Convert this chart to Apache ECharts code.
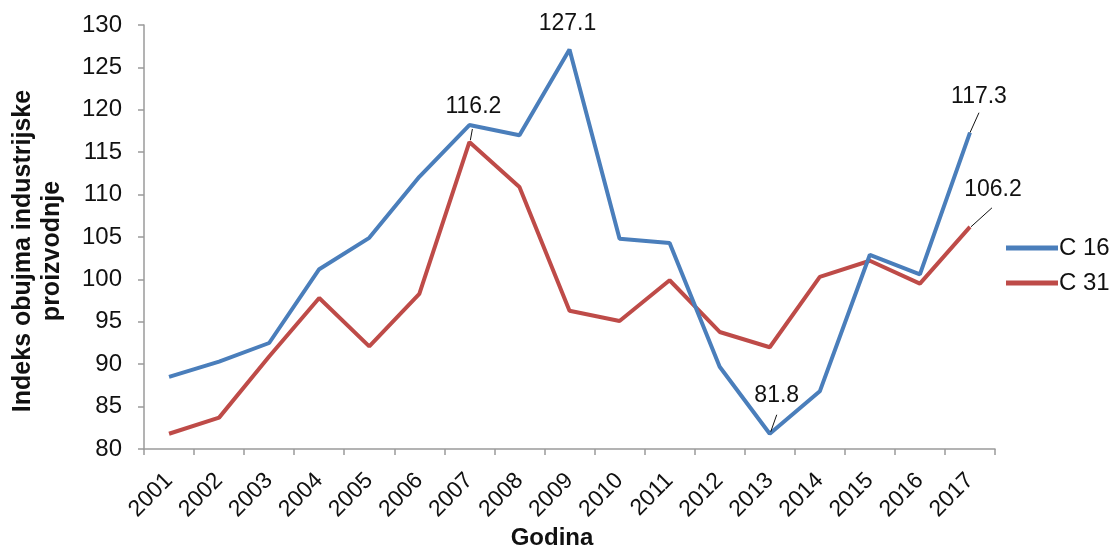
<!DOCTYPE html>
<html>
<head>
<meta charset="utf-8">
<script src="https://cdn.jsdelivr.net/npm/echarts@6/dist/echarts.min.js"></script>
<style>
  html, body { margin: 0; padding: 0; background: #fff; }
  #chart { width: 1116px; height: 550px; }
</style>
</head>
<body>
<div id="chart"></div>
<script>
// Index of industrial production volume, 2001–2017
const years = ['2001','2002','2003','2004','2005','2006','2007','2008','2009',
               '2010','2011','2012','2013','2014','2015','2016','2017'];
const c16 = [88.5, 90.3, 92.5, 101.2, 104.9, 112.1, 118.2, 117.0, 127.1,
             104.8, 104.3, 89.7, 81.8, 86.8, 102.9, 100.6, 117.3];
const c31 = [81.8, 83.7, 90.9, 97.8, 92.1, 98.3, 116.2, 110.9, 96.3,
             95.1, 99.9, 93.8, 92.0, 100.3, 102.2, 99.5, 106.2];

// Annotated points: label centre offset from the point, and optional leader
// line (start and end offsets from the point, in pixels)
const c16Notes = {
  8:  { label: [-2, -26] },
  12: { label: [7, -38], lead: [[1, -2], [7, -19]] },
  16: { label: [9, -36], lead: [[0, 0], [9, -20]] }
};
const c31Notes = {
  6:  { label: [4, -35], lead: [[1, -2], [3, -13]] },
  16: { label: [23, -37], lead: [[1, 0], [22, -19]] }
};

const FONT = 'Liberation Sans, Arial, sans-serif';
const BLUE = '#4A7EBB';
const RED = '#BE4B48';
const TEXT = '#111';
const AXIS = '#9a9a9a';

function seriesData(values, notes) {
  return values.map((v, i) => notes[i] ? { value: v, label: { show: true } } : v);
}

function layoutFor(notes) {
  return params => {
    const n = notes[params.dataIndex];
    if (!n) return {};
    const cx = params.rect.x + params.rect.width / 2;
    const cy = params.rect.y + params.rect.height / 2;
    return {
      x: cx + n.label[0],
      y: cy + n.label[1],
      align: 'center',
      verticalAlign: 'middle'
    };
  };
}

function lineSeries(name, values, notes, color, z) {
  return {
    name: name,
    type: 'line',
    data: seriesData(values, notes),
    symbol: 'circle',
    symbolSize: 0,
    showSymbol: true,
    lineStyle: { color: color, width: 4 },
    itemStyle: { color: color },
    label: { show: false, position: 'top', fontSize: 23, color: TEXT, fontFamily: FONT },
    labelLine: { show: false },
    labelLayout: layoutFor(notes),
    emphasis: { disabled: true },
    z: z
  };
}

const chart = echarts.init(document.getElementById('chart'));
const titles = [
  {
    type: 'text',
    x: 38,
    y: 251,
    rotation: Math.PI / 2,
    style: {
      text: 'Indeks obujma industrijske\nproizvodnje',
      font: 'bold 25px ' + FONT,
      fill: TEXT,
      align: 'center',
      verticalAlign: 'middle',
      lineHeight: 29
    }
  },
  {
    type: 'text',
    x: 552,
    y: 538,
    style: {
      text: 'Godina',
      font: 'bold 24px ' + FONT,
      fill: TEXT,
      align: 'center',
      verticalAlign: 'middle'
    }
  }
];

chart.setOption({
  animation: false,
  textStyle: { fontFamily: FONT },
  grid: { left: 144, right: 121, top: 25, bottom: 101 },
  legend: {
    orient: 'vertical',
    left: 1001,
    top: 231,
    itemWidth: 52,
    itemHeight: 5,
    itemGap: 11,
    icon: 'rect',
    textStyle: { fontFamily: FONT, fontSize: 24, color: TEXT, padding: [0, 0, 0, -4] },
    data: ['C 16', 'C 31']
  },
  graphic: titles,
  xAxis: {
    type: 'category',
    data: years,
    boundaryGap: true,
    axisLine: { lineStyle: { color: AXIS, width: 1.5 } },
    axisTick: { show: true, length: 6, lineStyle: { color: AXIS, width: 1.5 } },
    axisLabel: { rotate: 45, fontSize: 23, color: TEXT, margin: 28, interval: 0, fontFamily: FONT },
    splitLine: { show: false }
  },
  yAxis: {
    type: 'value',
    min: 80,
    max: 130,
    interval: 5,
    axisLine: { show: true, lineStyle: { color: AXIS, width: 1.5 } },
    axisTick: { show: true, length: 6, lineStyle: { color: AXIS, width: 1.5 } },
    axisLabel: { fontSize: 24, color: TEXT, margin: 22, fontFamily: FONT },
    splitLine: { show: false }
  },
  series: [
    lineSeries('C 16', c16, c16Notes, BLUE, 3),
    lineSeries('C 31', c31, c31Notes, RED, 2)
  ]
});

// Leader lines from annotated points towards their value labels
const leaders = [];
[[c16, c16Notes], [c31, c31Notes]].forEach(([values, notes]) => {
  Object.keys(notes).forEach(k => {
    const n = notes[k];
    if (!n.lead) return;
    const i = Number(k);
    const p = chart.convertToPixel({ xAxisIndex: 0, yAxisIndex: 0 }, [years[i], values[i]]);
    leaders.push({
      type: 'line',
      z: 10,
      shape: {
        x1: p[0] + n.lead[0][0], y1: p[1] + n.lead[0][1],
        x2: p[0] + n.lead[1][0], y2: p[1] + n.lead[1][1]
      },
      style: { stroke: TEXT, lineWidth: 1 }
    });
  });
});
chart.setOption({ graphic: titles.concat(leaders) });
</script>
</body>
</html>
